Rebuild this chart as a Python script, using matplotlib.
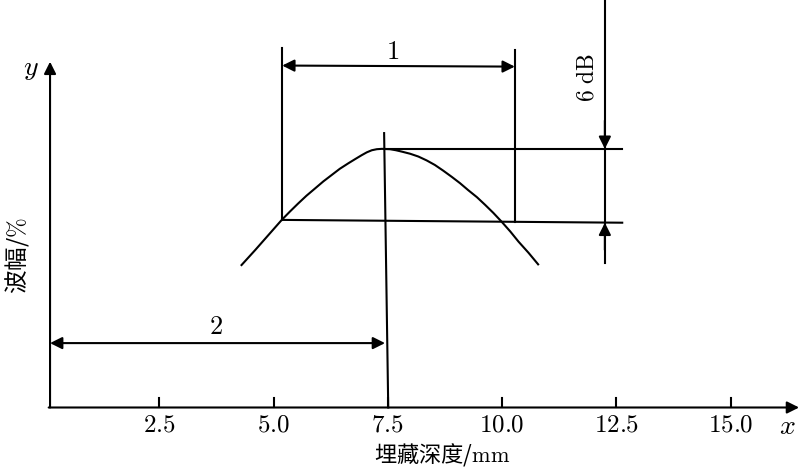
import matplotlib
matplotlib.use('Agg')
import matplotlib.pyplot as plt

plt.rcParams['font.family'] = ['Noto Sans CJK SC', 'DejaVu Sans']
plt.rcParams['mathtext.fontset'] = 'cm'

# echo curve (depth mm, amplitude %)
curve_x = [4.30, 4.60, 4.89, 5.18, 5.36, 5.54, 5.72, 5.91, 6.09, 6.27, 6.45, 6.64,
           6.79, 6.93, 7.04, 7.15, 7.26, 7.37, 7.55, 7.68, 7.81, 7.99, 8.17,
           8.35, 8.53, 8.71, 8.90, 9.08, 9.26, 9.45, 9.63, 9.81, 9.99, 10.18,
           10.36, 10.58, 10.79]
curve_y = [40.7, 45.0, 49.3, 53.6, 56.0, 58.3, 60.5, 62.6, 64.6, 66.4, 68.2, 69.8,
           71.0, 72.1, 72.9, 73.5, 73.8, 73.9, 73.8, 73.5, 73.1, 72.5, 71.7,
           70.6, 69.3, 67.7, 65.9, 64.1, 62.1, 60.1, 57.9, 55.6, 53.1, 50.3,
           47.4, 44.2, 40.9]

tick_pos = [2.5, 5.0, 7.5, 10.0, 12.5, 15.0]
tick_labels = ['2.5', '5.0', '7.5', '10.0', '12.5', '15.0']

peak_y = 73.9        # maximum amplitude
half_y = 53.6        # -6 dB level
left_x = 5.19        # -6 dB points
right_x = 10.28
peak_x = 7.42

lw = 1.5
fig = plt.figure(figsize=(8, 4.72), dpi=100)
ax = fig.add_axes([0, 0, 1, 1])
ax.set_xlim(-0.985, 16.52)
ax.set_ylim(-18.43, 116.43)
ax.axis('off')

ox = 0.11
head = dict(arrowstyle='-|>', color='black', lw=lw, mutation_scale=18,
            shrinkA=0, shrinkB=0)
both = dict(arrowstyle='<|-|>', color='black', lw=lw, mutation_scale=18,
            shrinkA=0, shrinkB=0)

# axes with arrows
ax.annotate('', xy=(ox, 98.8), xytext=(ox, 0), arrowprops=head)
ax.annotate('', xy=(16.5, 0), xytext=(ox - 0.03, 0), arrowprops=head)
for p, lab in zip(tick_pos, tick_labels):
    ax.plot([p, p], [0, 2.6], color='black', lw=lw)
    ax.text(p, -5.0, '$' + lab + '$', ha='center', va='center', fontsize=18)
ax.text(16.25, -5.4, '$x$', ha='center', va='center', fontsize=20)
ax.text(-0.3, 97.3, '$y$', ha='center', va='center', fontsize=20)
ax.text(8.68, -13.3, '埋藏深度/$\\mathrm{mm}$', ha='center', va='center', fontsize=16)
ax.text(-0.62, 43.5, '波幅/$\\%$', ha='center', va='center', fontsize=17, rotation=90)

# echo envelope
ax.plot(curve_x, curve_y, color='black', lw=lw)

# peak and -6 dB lines
ax.plot([peak_x, 12.63], [peak_y, peak_y], color='black', lw=lw)
ax.plot([left_x, 12.63], [half_y, 52.8], color='black', lw=lw)
ax.plot([peak_x, 7.51], [78.4, 0], color='black', lw=lw)
ax.plot([left_x, left_x], [102.7, half_y], color='black', lw=lw)
ax.plot([right_x, right_x], [102.1, 53.0], color='black', lw=lw)

# dimension 1
ax.annotate('', xy=(left_x, 97.7), xytext=(right_x, 97.4), arrowprops=both)
ax.text(7.61, 101.8, '$1$', ha='center', va='center', fontsize=19)

# dimension 2
ax.annotate('', xy=(ox, 18.4), xytext=(7.44, 18.4), arrowprops=both)
ax.text(3.74, 23.2, '$2$', ha='center', va='center', fontsize=19)

# 6 dB marker
ax.plot([12.25, 12.25], [116.4, 41.3], color='black', lw=lw)
ax.annotate('', xy=(12.25, peak_y), xytext=(12.25, 82), arrowprops=head)
ax.annotate('', xy=(12.25, 52.8), xytext=(12.25, 45), arrowprops=head)
ax.text(11.86, 94.4, '$6\\ \\mathrm{dB}$', ha='center', va='center', fontsize=17, rotation=90)

fig.savefig('out.png', dpi=100)
